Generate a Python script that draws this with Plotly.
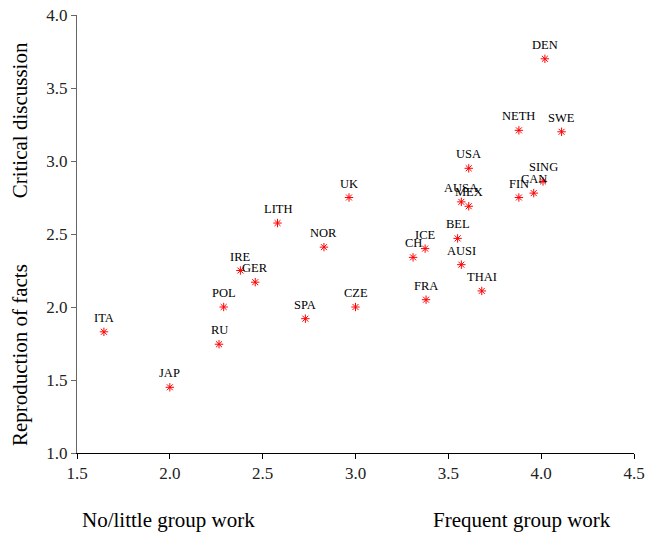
import plotly.graph_objects as go

countries = ["DEN", "NETH", "SWE", "USA", "SING", "CAN", "FIN", "AUSA", "MEX", "BEL",
             "ICE", "CH", "AUSI", "THAI", "FRA", "UK", "LITH", "NOR", "IRE", "GER",
             "POL", "CZE", "SPA", "ITA", "RU", "JAP"]
group_work = [4.02, 3.88, 4.11, 3.61, 4.01, 3.96, 3.88, 3.57, 3.61, 3.55,
              3.375, 3.31, 3.57, 3.68, 3.38, 2.965, 2.58, 2.83, 2.38, 2.46,
              2.29, 3.00, 2.73, 1.645, 2.265, 2.00]
critical = [3.70, 3.21, 3.20, 2.95, 2.86, 2.78, 2.75, 2.72, 2.69, 2.47,
            2.40, 2.34, 2.29, 2.11, 2.05, 2.75, 2.575, 2.41, 2.25, 2.17,
            2.00, 2.00, 1.92, 1.83, 1.745, 1.45]

x_ticks = [1.5, 2.0, 2.5, 3.0, 3.5, 4.0, 4.5]
y_ticks = [1.0, 1.5, 2.0, 2.5, 3.0, 3.5, 4.0]

serif = "Liberation Serif, Times New Roman, serif"

fig = go.Figure()
fig.add_trace(go.Scatter(
    x=group_work, y=critical, mode="markers",
    marker=dict(symbol="asterisk-open", size=7, color="red",
                line=dict(color="red", width=1)),
    hoverinfo="skip", showlegend=False, cliponaxis=False,
))

for c, xv, yv in zip(countries, group_work, critical):
    fig.add_annotation(x=xv, y=yv, text=c, showarrow=False, yshift=14,
                       font=dict(family=serif, size=12.5, color="black"))

title_font = dict(family=serif, size=21, color="black")
fig.add_annotation(xref="paper", yref="paper", x=-0.102, y=0.76, text="Critical discussion",
                   textangle=-90, showarrow=False, xanchor="center", yanchor="middle",
                   font=title_font)
fig.add_annotation(xref="paper", yref="paper", x=-0.102, y=0.224, text="Reproduction of facts",
                   textangle=-90, showarrow=False, xanchor="center", yanchor="middle",
                   font=title_font)
fig.add_annotation(xref="paper", yref="paper", x=0.005, y=-0.153, text="No/little group work",
                   showarrow=False, xanchor="left", yanchor="middle", font=title_font)
fig.add_annotation(xref="paper", yref="paper", x=0.962, y=-0.153, text="Frequent group work",
                   showarrow=False, xanchor="right", yanchor="middle", font=title_font)

tick_font = dict(family=serif, size=17, color="#222")
fig.update_layout(
    width=649, height=533,
    margin=dict(l=77, r=15, t=15, b=80, autoexpand=False),
    plot_bgcolor="white", paper_bgcolor="white",
    xaxis=dict(range=[1.5, 4.5], tickvals=x_ticks, ticktext=[f"{v:.1f}" for v in x_ticks],
               showgrid=False, zeroline=False, showline=True, linecolor="black", linewidth=1,
               ticks="outside", ticklen=5, tickcolor="black", automargin=False,
               tickfont=tick_font),
    yaxis=dict(range=[1.0, 4.0], tickvals=y_ticks, ticktext=[f"{v:.1f}" for v in y_ticks],
               showgrid=False, zeroline=False, showline=True, linecolor="#666", linewidth=1,
               ticks="outside", ticklen=5, tickcolor="#666", automargin=False,
               tickfont=tick_font),
)

fig.write_html("out.html")
